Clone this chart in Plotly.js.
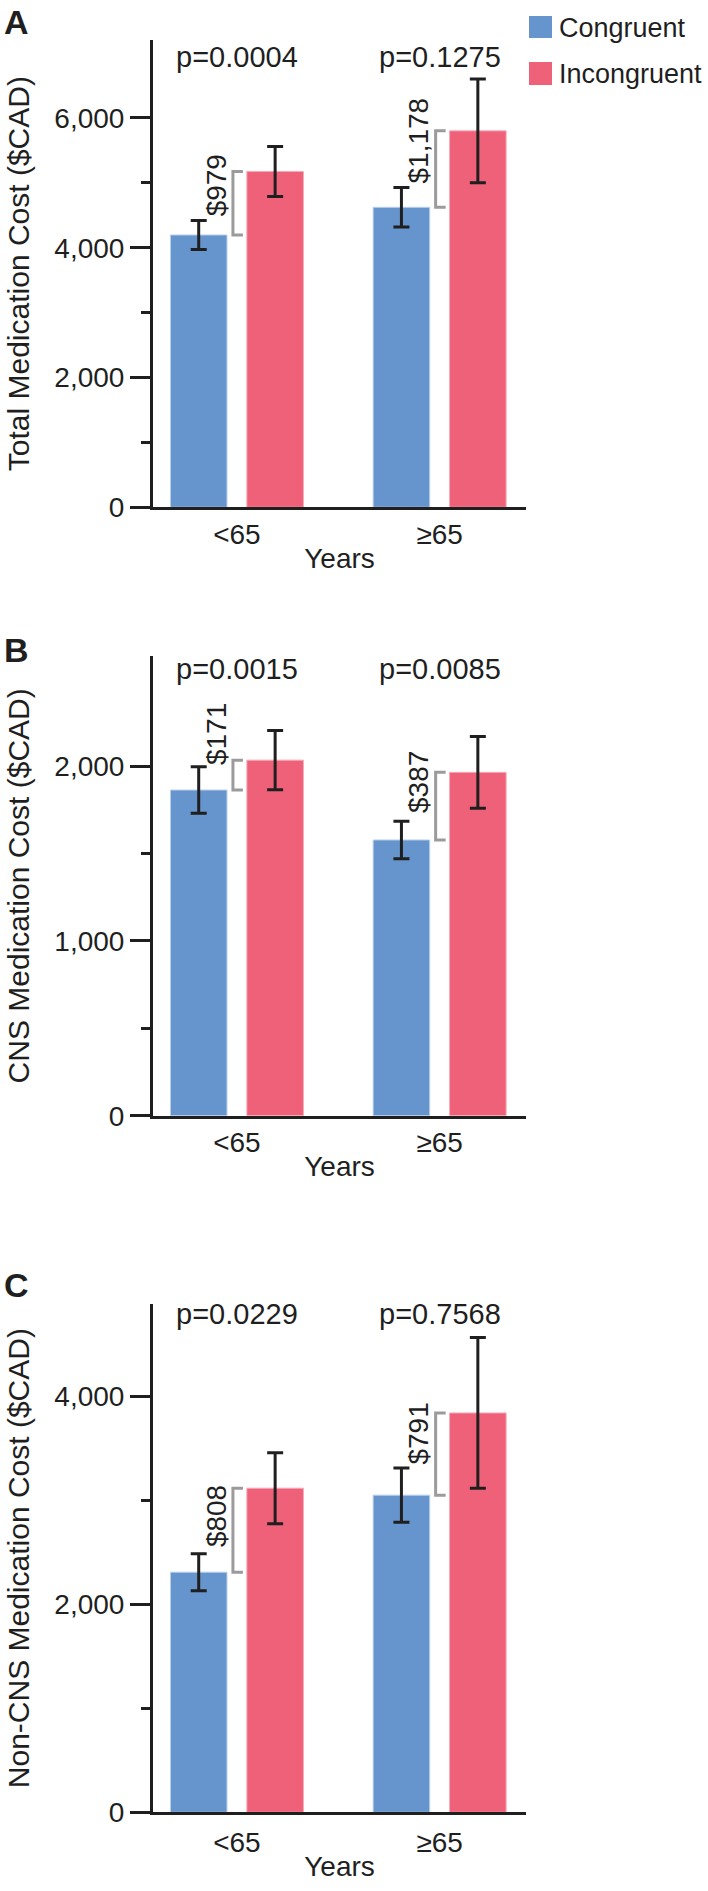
<!DOCTYPE html>
<html><head><meta charset="utf-8">
<script src="https://cdn.plot.ly/plotly-3.0.1.min.js"></script>
<style>html,body{margin:0;padding:0;background:#fff}#chart{width:708px;height:1891px}</style>
</head><body><div id="chart"></div>
<script>
// ---------- data ----------
const categories = ['<65', '≥65'];
const seriesNames = ['Congruent', 'Incongruent'];
const panelLetters = ['A', 'B', 'C'];
const yTitles = ['Total Medication Cost ($CAD)', 'CNS Medication Cost ($CAD)', 'Non-CNS Medication Cost ($CAD)'];
const xTitle = 'Years';

const totalCongruent = [4196, 4622];
const totalCongruentErr = [222, 305];
const totalIncongruent = [5175, 5800];
const totalIncongruentErr = [385, 800];

const cnsCongruent = [1864, 1578];
const cnsCongruentErr = [133, 107];
const cnsIncongruent = [2035, 1965];
const cnsIncongruentErr = [170, 205];

const nonCnsCongruent = [2310, 3051];
const nonCnsCongruentErr = [178, 261];
const nonCnsIncongruent = [3118, 3842];
const nonCnsIncongruentErr = [342, 725];

const pValues = [['p=0.0004', 'p=0.1275'], ['p=0.0015', 'p=0.0085'], ['p=0.0229', 'p=0.7568']];
const diffLabels = [['$979', '$1,178'], ['$171', '$387'], ['$808', '$791']];
const yTickVals = [[0, 2000, 4000, 6000], [0, 1000, 2000], [0, 2000, 4000]];
const yMinorVals = [[1000, 3000, 5000], [500, 1500], [1000, 3000]];

// ---------- styling / geometry ----------
const W = 708, H = 1891;
const FONT = 'Liberation Sans, Arial, Helvetica, sans-serif';
const INK = '#1f1f1f';
const BLUE = '#6694cc';
const PINK = '#ef6079';
const GREY = '#9b9b9b';
const plotTop = [40, 656, 1304];
const plotBottom = [507.3, 1115.7, 1812.3];
const yMax = [7200, 2631, 4890];
const xDomain = [153 / W, 526 / W];
const pCenterPx = [57, 669, 1314];
const letterCenterPx = [22, 650, 1285];
const labelOffsetPx = [[14, 10], [-26, 10], [28, 21]];
const xLabelStandoff = [0, 0, 3];

const panels = [
  { c: totalCongruent, ce: totalCongruentErr, i: totalIncongruent, ie: totalIncongruentErr },
  { c: cnsCongruent, ce: cnsCongruentErr, i: cnsIncongruent, ie: cnsIncongruentErr },
  { c: nonCnsCongruent, ce: nonCnsCongruentErr, i: nonCnsIncongruent, ie: nonCnsIncongruentErr }
];

const py = p => 1 - p / H;

const data = [];
const layout = {
  width: W, height: H,
  margin: { l: 0, r: 0, t: 0, b: 0, pad: 0 },
  paper_bgcolor: '#fff', plot_bgcolor: '#fff',
  font: { family: FONT, color: INK, size: 27 },
  barmode: 'group', bargap: 0.246, bargroupgap: 0.26,
  showlegend: false,
  shapes: [], annotations: []
};

panels.forEach((p, k) => {
  const sfx = k === 0 ? '' : String(k + 1);
  const xa = 'x' + sfx, ya = 'y' + sfx;
  data.push({
    type: 'bar', name: seriesNames[0], x: categories, y: p.c, xaxis: xa, yaxis: ya,
    marker: { color: BLUE, line: { color: '#b9d0ec', width: 1 } },
    error_y: { type: 'data', array: p.ce, visible: true, color: INK, thickness: 3, width: 8 },
    hoverinfo: 'skip'
  });
  data.push({
    type: 'bar', name: seriesNames[1], x: categories, y: p.i, xaxis: xa, yaxis: ya,
    marker: { color: PINK, line: { color: '#f7a9b7', width: 1 } },
    error_y: { type: 'data', array: p.ie, visible: true, color: INK, thickness: 3, width: 8 },
    hoverinfo: 'skip'
  });

  layout['xaxis' + sfx] = {
    domain: xDomain, anchor: ya, type: 'category', range: [-0.414, 1.426],
    showline: true, linewidth: 3, linecolor: INK, ticks: '', showgrid: false, zeroline: false,
    tickfont: { size: 28, family: FONT, color: INK }, ticklabelstandoff: xLabelStandoff[k],
    title: { text: xTitle, font: { size: 28, family: FONT, color: INK }, standoff: 0 },
    fixedrange: true
  };
  layout['yaxis' + sfx] = {
    domain: [py(plotBottom[k]), py(plotTop[k])], anchor: xa, range: [0, yMax[k]],
    showline: true, linewidth: 3, linecolor: INK, showgrid: false, zeroline: false,
    ticks: 'outside', ticklen: 20, tickwidth: 3, tickcolor: INK,
    tickmode: 'array', tickvals: yTickVals[k], tickformat: ',d',
    tickfont: { size: 28, family: FONT, color: INK },
    minor: { tickmode: 'array', tickvals: yMinorVals[k], ticks: 'outside', ticklen: 9, tickwidth: 3, tickcolor: INK, showgrid: false },
    title: { text: yTitles[k], font: { size: 30, family: FONT, color: INK }, standoff: 16 },
    fixedrange: true
  };

  categories.forEach((cat, j) => {
    // bracket between congruent and incongruent means
    layout.shapes.push({
      type: 'path', xref: xa, yref: ya, xsizemode: 'pixel', xanchor: j,
      path: `M6,${p.c[j]} L-4,${p.c[j]} L-4,${p.i[j]} L6,${p.i[j]}`,
      line: { color: GREY, width: 3 }
    });
    layout.annotations.push({
      xref: xa, yref: ya, x: j, y: p.i[j], text: diffLabels[k][j], textangle: -90,
      xshift: -21, yshift: -labelOffsetPx[k][j], showarrow: false,
      xanchor: 'center', yanchor: 'middle', font: { size: 28, family: FONT, color: INK }
    });
    layout.annotations.push({
      xref: xa, yref: 'paper', x: j, y: py(pCenterPx[k]), text: pValues[k][j],
      showarrow: false, xanchor: 'center', yanchor: 'middle',
      font: { size: 29, family: FONT, color: INK }
    });
  });

  layout.annotations.push({
    xref: 'paper', yref: 'paper', x: 2 / W, y: py(letterCenterPx[k]), text: '<b>' + panelLetters[k] + '</b>',
    showarrow: false, xanchor: 'left', yanchor: 'middle', font: { size: 34, family: FONT, color: INK }
  });
});

// legend (drawn manually to match the large swatches)
const legendRows = [{ color: BLUE, top: 16, bottom: 38 }, { color: PINK, top: 62, bottom: 85 }];
legendRows.forEach((r, n) => {
  layout.shapes.push({
    type: 'rect', xref: 'paper', yref: 'paper', x0: 529 / W, x1: 552 / W, y0: py(r.bottom), y1: py(r.top),
    fillcolor: r.color, line: { width: 0 }
  });
  layout.annotations.push({
    xref: 'paper', yref: 'paper', x: 557 / W, y: py((r.top + r.bottom) / 2 + 1), text: seriesNames[n],
    showarrow: false, xanchor: 'left', yanchor: 'middle', font: { size: 27, family: FONT, color: INK }
  });
});

Plotly.newPlot('chart', data, layout, { displayModeBar: false, staticPlot: true });
</script>
</body></html>
